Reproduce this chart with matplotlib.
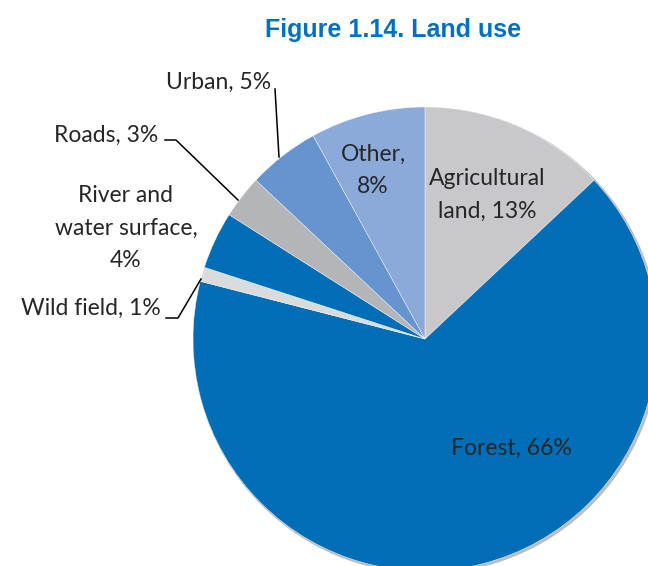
import matplotlib.pyplot as plt
from matplotlib.patches import Circle

W, H = 648, 566

categories = ['Agricultural\nland', 'Forest', 'Wild field', 'River and\nwater surface',
              'Roads', 'Urban', 'Other']
shares = [13, 66, 1, 4, 3, 5, 8]
colors = ['#C8C8CA', '#006EB7', '#DADBDC', '#006EB7', '#B4B5B8', '#6694CE', '#8BAADA']

label_font = ['Lato', 'DejaVu Sans']
text_color = '#262626'
fs = 16.5


def px(x, y):
    # pixel position (from top-left) -> data coordinates
    return x, H - y


fig = plt.figure(figsize=(W / 100, H / 100), dpi=100)
ax = fig.add_axes([0, 0, 1, 1])

cx, cy = px(425, 339)
r = 232

# soft shadow under the pie
ax.add_patch(Circle((cx + 1.5, cy - 1.5), r + 0.5, color='#BDBDBD', zorder=0))

wedges, _ = ax.pie(shares, colors=colors, startangle=90, counterclock=False,
                   center=(cx, cy), radius=r,
                   wedgeprops=dict(linewidth=0.3, edgecolor='white'))
for w in wedges:
    w.set_zorder(1)

ax.set_xlim(0, W)
ax.set_ylim(0, H)
ax.set_aspect('equal')
ax.axis('off')

fig.text(0.5 * (263 + 523) / W, 1 - 30 / H, 'Figure 1.14. Land use',
         ha='center', va='center', fontsize=18, fontweight='bold',
         color='#0070C0', family='Liberation Sans')

# labels inside the slices
inside = [
    (f'{categories[0]}, {shares[0]}%', 487, 195),
    (f'{categories[1]}, {shares[1]}%', 511, 448),
    (f'{categories[6]},\n{shares[6]}%', 373, 170),
]
for txt, x, y in inside:
    ax.text(*px(x, y), txt, ha='center', va='center', fontsize=fs,
            color=text_color, family=label_font, linespacing=1.65, zorder=3)

# labels outside with leader lines
ax.text(*px(271, 82), f'{categories[5]}, {shares[5]}%', ha='right', va='center',
        fontsize=fs, color=text_color, family=label_font)
ax.text(*px(158, 135), f'{categories[4]}, {shares[4]}%', ha='right', va='center',
        fontsize=fs, color=text_color, family=label_font)
ax.text(*px(126, 228), f'{categories[3]},\n{shares[3]}%', ha='center', va='center',
        fontsize=fs, color=text_color, family=label_font, linespacing=1.65)
ax.text(*px(161, 308), f'{categories[2]}, {shares[2]}%', ha='right', va='center',
        fontsize=fs, color=text_color, family=label_font)

leaders = [
    [(275, 89), (279, 157)],
    [(165, 140), (176, 140), (238, 200)],
    [(166, 318), (178, 318), (201, 279)],
]
for pts in leaders:
    xs = [p[0] for p in pts]
    ys = [H - p[1] for p in pts]
    ax.plot(xs, ys, color='black', lw=1.1, zorder=2)

fig.savefig('out.png', dpi=100)
